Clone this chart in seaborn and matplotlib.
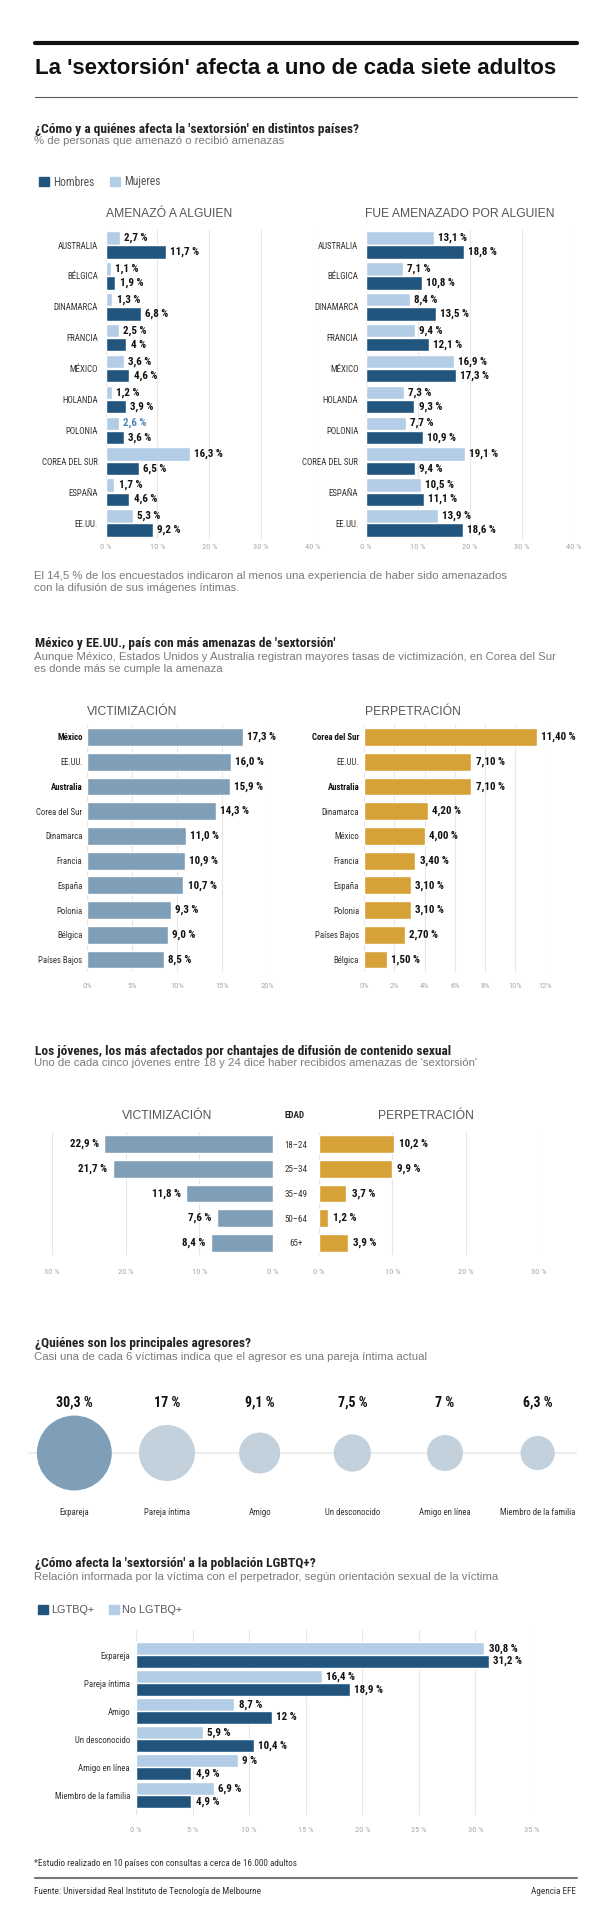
import pandas as pd
import seaborn as sns
import matplotlib.pyplot as plt
from matplotlib import font_manager
from matplotlib.patches import Patch
from matplotlib.lines import Line2D

# ---------------------------------------------------------
# Data
# ---------------------------------------------------------
paises = ['AUSTRALIA', 'BÉLGICA', 'DINAMARCA', 'FRANCIA', 'MÉXICO',
          'HOLANDA', 'POLONIA', 'COREA DEL SUR', 'ESPAÑA', 'EE.UU.']
amenazo_muj = [2.7, 1.1, 1.3, 2.5, 3.6, 1.2, 2.6, 16.3, 1.7, 5.3]
amenazo_hom = [11.7, 1.9, 6.8, 4.0, 4.6, 3.9, 3.6, 6.5, 4.6, 9.2]
amenazado_muj = [13.1, 7.1, 8.4, 9.4, 16.9, 7.3, 7.7, 19.1, 10.5, 13.9]
amenazado_hom = [18.8, 10.8, 13.5, 12.1, 17.3, 9.3, 10.9, 9.4, 11.1, 18.6]

vict_paises = ['México', 'EE.UU.', 'Australia', 'Corea del Sur', 'Dinamarca',
               'Francia', 'España', 'Polonia', 'Bélgica', 'Países Bajos']
vict_valores = [17.3, 16.0, 15.9, 14.3, 11.0, 10.9, 10.7, 9.3, 9.0, 8.5]
perp_paises = ['Corea del Sur', 'EE.UU.', 'Australia', 'Dinamarca', 'México',
               'Francia', 'España', 'Polonia', 'Países Bajos', 'Bélgica']
perp_valores = [11.4, 7.1, 7.1, 4.2, 4.0, 3.4, 3.1, 3.1, 2.7, 1.5]

edades = ['18–24', '25–34', '35–49', '50–64', '65+']
edad_vict = [22.9, 21.7, 11.8, 7.6, 8.4]
edad_perp = [10.2, 9.9, 3.7, 1.2, 3.9]

agresores = ['Expareja', 'Pareja íntima', 'Amigo', 'Un desconocido',
             'Amigo en línea', 'Miembro de la familia']
agresor_valores = [30.3, 17.0, 9.1, 7.5, 7.0, 6.3]

relaciones = agresores
lgtbq = [31.2, 18.9, 12.0, 10.4, 4.9, 4.9]
no_lgtbq = [30.8, 16.4, 8.7, 5.9, 9.0, 6.9]

# ---------------------------------------------------------
# Style
# ---------------------------------------------------------
sns.set_theme(style="white")
names = {f.name for f in font_manager.fontManager.ttflist}
NARROW = 'Liberation Sans'
for cand in ['Roboto Condensed', 'PT Sans Narrow', 'Archivo Narrow']:
    if cand in names:
        NARROW = cand
        break
plt.rcParams['font.family'] = ['Liberation Sans', 'DejaVu Sans']

DARK = "#22557e"
LIGHT = "#b3cde6"
VICT = "#7f9fb8"
PERP = "#d6a137"
CIRC = "#c3d1dd"
GRID = "#e6e6e6"
TICKC = "#a8a8a8"
SUBC = "#7a7a7a"
PANEL = "#555555"

W, H = 606, 1920
fig = plt.figure(figsize=(W / 100, H / 100), dpi=100)


def T(x, y, s, **kw):
    kw.setdefault('va', 'center')
    return fig.text(x / W, 1 - y / H, s, **kw)


def axes_px(x0, y0, x1, y1):
    return fig.add_axes([x0 / W, 1 - y1 / H, (x1 - x0) / W, (y1 - y0) / H])


def hline(x0, x1, y, lw, color):
    fig.add_artist(Line2D([x0 / W, x1 / W], [1 - y / H, 1 - y / H],
                          transform=fig.transFigure, lw=lw, color=color))


def clean(ax, ticks, ticklabels, pad=3):
    sns.despine(ax=ax, left=True, bottom=True)
    ax.set_xlabel('')
    ax.set_ylabel('')
    ax.set_xticks(ticks)
    ax.set_xticklabels(ticklabels, fontsize=6, color=TICKC, family=NARROW)
    ax.tick_params(axis='x', length=0, pad=pad)
    ax.tick_params(axis='y', length=0)
    ax.grid(axis='x', color=GRID, lw=0.8)
    ax.grid(axis='y', visible=False)
    ax.set_axisbelow(True)


def fmt_g(v):
    return ('%g' % v).replace('.', ',') + ' %'


def header(y, titulo, lineas):
    T(35, y, titulo, fontsize=9.6, weight='bold', family=NARROW, color='#222222')
    for i, l in enumerate(lineas):
        T(34, y + 12.5 + 12 * i, l, fontsize=8.2, color=SUBC)


# ---------------------------------------------------------
# Header
# ---------------------------------------------------------
hline(35, 577, 43, 3, '#111111')
T(35, 69, "La 'sextorsión' afecta a uno de cada siete adultos",
  fontsize=16, weight='bold', color='#111111')
hline(35, 577, 97, 0.8, '#555555')

# ---------------------------------------------------------
# Section 1
# ---------------------------------------------------------
header(129, "¿Cómo y a quiénes afecta la 'sextorsión' en distintos países?",
       ["% de personas que amenazó o recibió amenazas"])
leg = fig.legend([Patch(color=DARK), Patch(color=LIGHT)], ['Hombres', 'Mujeres'],
                 loc='center left', bbox_to_anchor=(39 / W, 1 - 182 / H), ncol=2,
                 frameon=False, handlelength=0.9, handleheight=0.9, handletextpad=0.35,
                 columnspacing=1.3, borderpad=0, borderaxespad=0,
                 prop={'family': NARROW, 'size': 8.3})
for t in leg.get_texts():
    t.set_color(PANEL)

T(106, 214, "AMENAZÓ A ALGUIEN", fontsize=8.7, color=PANEL)
T(365, 214, "FUE AMENAZADO POR ALGUIEN", fontsize=8.7, color=PANEL)

sexos = ['Mujeres', 'Hombres']
for x0, x1, muj, hom in [(105.6, 313, amenazo_muj, amenazo_hom),
                         (366, 574, amenazado_muj, amenazado_hom)]:
    ax = axes_px(x0, 229.6, x1, 538.5)
    df = pd.DataFrame({'pais': paises * 2,
                       'sexo': ['Mujeres'] * len(paises) + ['Hombres'] * len(paises),
                       'valor': muj + hom})
    sns.barplot(data=df, y='pais', x='valor', hue='sexo', hue_order=sexos,
                order=paises, palette=[LIGHT, DARK], orient='h', width=0.92,
                gap=0.06, saturation=1, legend=False, ax=ax)
    ax.set_xlim(0, 40)
    clean(ax, [0, 10, 20, 30, 40], ['0 %', '10 %', '20 %', '30 %', '40 %'], pad=4)
    ax.set_yticks(range(len(paises)))
    ax.set_yticklabels(paises, fontsize=6.4, family=NARROW, color='#333333')
    ax.tick_params(axis='y', pad=5.5)
    for cont, vals in zip(ax.containers, [muj, hom]):
        txts = ax.bar_label(cont, labels=[fmt_g(v) for v in vals], padding=3,
                            fontsize=7.9, weight='bold', family=NARROW, color='#111111')
        if vals is amenazo_muj:
            txts[paises.index('POLONIA')].set_color('#4f86b8')

T(34, 576, "El 14,5 % de los encuestados indicaron al menos una experiencia de haber sido amenazados",
  fontsize=8.2, color=SUBC)
T(34, 588, "con la difusión de sus imágenes íntimas.", fontsize=8.2, color=SUBC)

# ---------------------------------------------------------
# Section 2
# ---------------------------------------------------------
header(644, "México y EE.UU., país con más amenazas de 'sextorsión'",
       ["Aunque México, Estados Unidos y Australia registran mayores tasas de victimización, en Corea del Sur",
        "es donde más se cumple la amenaza"])
T(87, 712, "VICTIMIZACIÓN", fontsize=8.7, color=PANEL)
T(365, 712, "PERPETRACIÓN", fontsize=8.7, color=PANEL)

panels2 = [(87.4, 267, vict_paises, vict_valores, VICT, 20, [0, 5, 10, 15, 20],
            '%.1f', ['México', 'Australia']),
           (364, 545.6, perp_paises, perp_valores, PERP, 12, [0, 2, 4, 6, 8, 10, 12],
            '%.2f', ['Corea del Sur', 'Australia'])]
for x0, x1, cats, vals, col, xmax, ticks, f, negritas in panels2:
    ax = axes_px(x0, 724.6, x1, 971.9)
    df = pd.DataFrame({'pais': cats, 'valor': vals})
    sns.barplot(data=df, y='pais', x='valor', order=cats, color=col, orient='h',
                width=0.72, saturation=1, ax=ax)
    ax.set_xlim(0, xmax)
    clean(ax, ticks, ['%d%%' % t for t in ticks], pad=8)
    ax.set_yticks(range(len(cats)))
    ax.set_yticklabels(cats, fontsize=6.3, family=NARROW, color='#333333')
    for lab in ax.get_yticklabels():
        if lab.get_text() in negritas:
            lab.set_weight('bold')
            lab.set_color('#111111')
    ax.tick_params(axis='y', pad=3.5)
    ax.bar_label(ax.containers[0], labels=[(f % v).replace('.', ',') + ' %' for v in vals],
                 padding=3, fontsize=7.9, weight='bold', family=NARROW, color='#111111')

# ---------------------------------------------------------
# Section 3
# ---------------------------------------------------------
header(1051, "Los jóvenes, los más afectados por chantajes de difusión de contenido sexual",
       ["Uno de cada cinco jóvenes entre 18 y 24 dice haber recibidos amenazas de 'sextorsión'"])
T(167, 1116, "VICTIMIZACIÓN", fontsize=8.7, color=PANEL, ha='center')
T(295, 1116, "EDAD", fontsize=6.6, weight='bold', family=NARROW, color='#222222', ha='center')
T(426, 1116, "PERPETRACIÓN", fontsize=8.7, color=PANEL, ha='center')

for x0, x1, vals, col, lado in [(52, 273, edad_vict, VICT, 'izq'),
                                (319, 539, edad_perp, PERP, 'der')]:
    ax = axes_px(x0, 1132, x1, 1255)
    df = pd.DataFrame({'edad': edades, 'valor': vals})
    sns.barplot(data=df, y='edad', x='valor', order=edades, color=col, orient='h',
                width=0.72, saturation=1, ax=ax)
    if lado == 'izq':
        ax.set_xlim(30, 0)
    else:
        ax.set_xlim(0, 30)
    clean(ax, [0, 10, 20, 30], ['0 %', '10 %', '20 %', '30 %'], pad=10)
    ax.set_yticks(range(len(edades)))
    if lado == 'izq':
        ax.set_yticklabels([])
    else:
        ax.set_yticklabels(edades, fontsize=6.5, family=NARROW, color='#333333', ha='center')
        ax.tick_params(axis='y', pad=16.5)
    ax.bar_label(ax.containers[0], labels=[('%.1f' % v).replace('.', ',') + ' %' for v in vals],
                 padding=4, fontsize=7.9, weight='bold', family=NARROW, color='#111111')

# ---------------------------------------------------------
# Section 4
# ---------------------------------------------------------
header(1344, "¿Quiénes son los principales agresores?",
       ["Casi una de cada 6 víctimas indica que el agresor es una pareja íntima actual"])

ax = axes_px(28, 1383, 584, 1523)
df = pd.DataFrame({'agresor': agresores, 'valor': agresor_valores,
                   'eje': [0] * len(agresores)})
k = 96
sns.scatterplot(data=df, x='agresor', y='eje', size='valor', hue='agresor',
                palette=[VICT] + [CIRC] * (len(agresores) - 1),
                sizes=(k * min(agresor_valores), k * max(agresor_valores)),
                size_norm=(min(agresor_valores), max(agresor_valores)),
                linewidth=0, alpha=1, legend=False, zorder=3, ax=ax)
ax.axhline(0, xmin=-0.01, xmax=0.985, color='#eeeeee', lw=1.5, zorder=1)
ax.set_xlim(-0.5, len(agresores) - 0.5)
ax.set_ylim(-1, 1)
ax.axis('off')
for i, (a, v) in enumerate(zip(agresores, agresor_valores)):
    ax.text(i, 0.714, fmt_g(v), ha='center', va='center', fontsize=10,
            weight='bold', family=NARROW, color='#111111')
    ax.text(i, -0.843, a, ha='center', va='center', fontsize=6.3,
            family=NARROW, color='#333333')

# ---------------------------------------------------------
# Section 5
# ---------------------------------------------------------
header(1564, "¿Cómo afecta la 'sextorsión' a la población LGBTQ+?",
       ["Relación informada por la víctima con el perpetrador, según orientación sexual de la víctima"])
leg = fig.legend([Patch(color=DARK), Patch(color=LIGHT)], ['LGTBQ+', 'No LGTBQ+'],
                 loc='center left', bbox_to_anchor=(38 / W, 1 - 1610 / H), ncol=2,
                 frameon=False, handlelength=0.9, handleheight=0.9, handletextpad=0.35,
                 columnspacing=1.3, borderpad=0, borderaxespad=0, prop={'size': 7.8})
for t in leg.get_texts():
    t.set_color(PANEL)

ax = axes_px(136, 1630, 532, 1815)
grupos = ['No LGTBQ+', 'LGTBQ+']
df = pd.DataFrame({'relacion': relaciones * 2,
                   'grupo': ['No LGTBQ+'] * len(relaciones) + ['LGTBQ+'] * len(relaciones),
                   'valor': no_lgtbq + lgtbq})
sns.barplot(data=df, y='relacion', x='valor', hue='grupo', hue_order=grupos,
            order=relaciones, palette=[LIGHT, DARK], orient='h', width=0.9,
            gap=0.0, saturation=1, legend=False, ax=ax)
ax.set_xlim(0, 35)
ax.set_ylim(5.71, -0.893)
clean(ax, [0, 5, 10, 15, 20, 25, 30, 35],
      ['0 %', '5 %', '10 %', '15 %', '20 %', '25 %', '30 %', '35 %'], pad=9)
ax.set_yticks(range(len(relaciones)))
ax.set_yticklabels(relaciones, fontsize=6.3, family=NARROW, color='#333333')
ax.tick_params(axis='y', pad=4.3)
for cont, vals in zip(ax.containers, [no_lgtbq, lgtbq]):
    ax.bar_label(cont, labels=[fmt_g(v) for v in vals], padding=3,
                 fontsize=7.9, weight='bold', family=NARROW, color='#111111')

# ---------------------------------------------------------
# Footer
# ---------------------------------------------------------
T(34, 1863, "*Estudio realizado en 10 países con consultas a cerca de 16.000 adultos",
  fontsize=6.6, family=NARROW, color='#333333')
hline(35, 577, 1878, 1.5, '#777777')
T(34, 1892, "Fuente: Universidad Real Instituto de Tecnología de Melbourne",
  fontsize=6.6, family=NARROW, color='#333333')
T(576, 1892, "Agencia EFE", fontsize=6.6, family=NARROW, color='#333333', ha='right')

fig.savefig('out.png', dpi=100)
